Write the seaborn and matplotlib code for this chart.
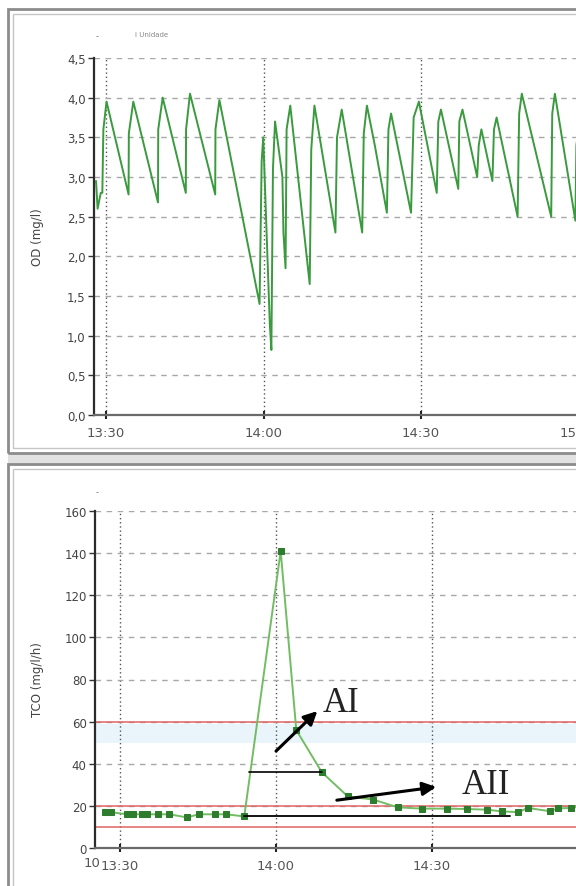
import matplotlib
matplotlib.use("Agg")
import matplotlib.pyplot as plt
from matplotlib.patches import Rectangle
import seaborn as sns

W, H = 576, 887

# dissolved oxygen trace, minutes after 13:30
od_minutes = [-1.9, -1.6, -1.0, -0.7, -0.5, 0.1,
              4.3, 4.35, 5.2, 9.9, 9.95, 10.8, 15.2, 15.25, 16.0, 20.8, 20.85, 21.6,
              29.25, 29.65, 29.95, 31.2, 31.5, 31.8, 32.2, 33.6, 33.8, 34.2, 34.4, 35.1,
              38.8, 39.1, 39.7, 43.7, 44.0, 44.9, 48.8, 49.1, 49.7, 51.2, 53.5, 53.8, 54.3,
              58.1, 58.6, 59.6, 63.0, 63.3, 63.8, 67.1, 67.3, 67.9, 70.7, 71.0, 71.5,
              73.6, 73.9, 74.4, 78.4, 78.7, 79.2, 84.8, 85.0, 85.5, 89.4, 89.6, 90.2]
od_values = [2.95, 2.6, 2.8, 2.8, 3.6, 3.95,
             2.78, 3.55, 3.95, 2.68, 3.6, 4.0, 2.8, 3.6, 4.05, 2.78, 3.6, 3.97,
             1.4, 3.2, 3.5, 1.15, 0.82, 3.1, 3.7, 3.0, 2.3, 1.85, 3.6, 3.9,
             1.65, 3.35, 3.9, 2.3, 3.5, 3.85, 2.3, 3.55, 3.9, 3.4, 2.55, 3.6, 3.8,
             2.55, 3.75, 3.95, 2.8, 3.7, 3.85, 2.85, 3.7, 3.85, 3.0, 3.4, 3.6,
             2.95, 3.6, 3.75, 2.5, 3.8, 4.05, 2.5, 3.8, 4.05, 2.45, 3.4, 3.7]

# TCO samples, minutes after 13:30
tco_minutes = [-2.8, -1.8, 1.4, 2.5, 4.2, 5.1, 7.4, 9.5, 12.9, 15.1, 18.3, 20.4, 23.9,
               30.9, 33.9, 38.8, 43.8, 48.7, 53.4, 58.0, 62.8, 66.8, 70.5, 73.4,
               76.6, 78.4, 82.6, 84.3, 86.8, 90.5]
tco_values = [17, 17, 16, 16, 16, 16, 16, 16, 14.5, 16, 16, 16, 15,
              141, 56, 36, 24.5, 23, 19.3, 18.7, 18.7, 18.5, 18.2, 17.4,
              17, 19, 17.5, 18.8, 19, 21]

time_ticks = [0, 30, 60, 90]
time_labels = ["13:30", "14:00", "14:30", "15:00"]
od_ticks = [0, 0.5, 1.0, 1.5, 2.0, 2.5, 3.0, 3.5, 4.0, 4.5]
od_labels = ["0,0", "0,5", "1,0", "1,5", "2,0", "2,5", "3,0", "3,5", "4,0", "4,5"]
tco_ticks = [0, 20, 40, 60, 80, 100, 120, 140, 160]
red_levels = [10, 20, 60]

# annotation geometry (minutes, mg/l/h)
ai_arrow = ((30.0, 46), (37.95, 65))
aii_arrow = ((41.7, 22.7), (60.8, 29))
ai_bar = ([24.9, 38.8], [36.3, 36.3])
base_bar = ([23.9, 75.0], [15.0, 15.0])

sns.set_style("white")
plt.rcParams['font.family'] = ['DejaVu Sans']

fig = plt.figure(figsize=(W / 100, H / 100), dpi=100)


def box(x0, y0, x1, y1):
    return [x0 / W, 1 - y1 / H, (x1 - x0) / W, (y1 - y0) / H]


def frame(x0, y0, x1, y1):
    fig.patches.append(Rectangle((x0 / W, 1 - y1 / H), (x1 - x0) / W, (y1 - y0) / H,
                                 transform=fig.transFigure, fill=False,
                                 edgecolor="#8c8c8c", lw=2))
    fig.patches.append(Rectangle(((x0 + 5) / W, 1 - (y1 - 5) / H), (x1 - x0 - 10) / W,
                                 (y1 - y0 - 10) / H, transform=fig.transFigure, fill=False,
                                 edgecolor="#c6c6c6", lw=1))


fig.patches.append(Rectangle((8 / W, 1 - 467 / H), 600 / W, 13 / H, transform=fig.transFigure,
                             facecolor="#e2e2e2", edgecolor="none"))
frame(8, 10, 600, 454)
frame(8, 465, 600, 905)


def style(ax, xlim):
    ax.set_xlim(*xlim)
    ax.set_xticks(time_ticks)
    for s in ["top", "right"]:
        ax.spines[s].set_visible(False)
    ax.spines["left"].set_color("#2b2b2b")
    ax.spines["left"].set_linewidth(1.6)
    ax.spines["bottom"].set_color("#6a6a6a")
    ax.spines["bottom"].set_linewidth(1.6)
    ax.yaxis.grid(True, ls=(0, (4, 4)), color="#a8a8a8", lw=1)
    ax.xaxis.grid(True, ls=(0, (1, 2)), color="#555555", lw=1)
    ax.set_axisbelow(True)
    ax.tick_params(axis="y", direction="out", length=4, width=1, color="#333",
                   labelsize=8.5, labelcolor="#444", pad=2, left=True)
    ax.tick_params(axis="x", direction="inout", length=6, width=1.5, color="#222",
                   labelsize=9.5, labelcolor="#555", pad=5, bottom=True)
    ax.set_xlabel("")
    ax.set_ylabel("")


# top panel: dissolved oxygen
ax1 = fig.add_axes(box(94, 59, 605, 416))
sns.lineplot(x=od_minutes, y=od_values, ax=ax1, color="#3a9a3e", lw=1.4,
             sort=False, estimator=None)
style(ax1, ((94 - 106) / 5.25, (605 - 106) / 5.25))
ax1.set_ylim(0, 4.5)
ax1.set_yticks(od_ticks)
ax1.set_yticklabels(od_labels)
ax1.set_xticklabels(time_labels)
fig.text(37 / W, 1 - 237 / H, "OD (mg/l)", rotation=90, ha="center", va="center",
         fontsize=8.5, color="#444")
fig.text(97 / W, 1 - 37 / H, "-", fontsize=6, color="#777", ha="center", va="center")
fig.text(135 / W, 1 - 35 / H, "i Unidade", fontsize=5, color="#888", ha="left", va="center")

# bottom panel: TCO
ax2 = fig.add_axes(box(95, 512, 614, 849))
for lvl in red_levels:
    ax2.axhline(lvl, color="#e06464", lw=1.1, zorder=1.5)
ax2.axhspan(50, 59, color="#eaf5fb", zorder=0.5, lw=0)
sns.lineplot(x=tco_minutes, y=tco_values, ax=ax2, color="#72bd63", lw=1.4,
             marker="s", markersize=4.5, markerfacecolor="#2e7d2e",
             markeredgecolor="#2e7d2e", sort=False, estimator=None, zorder=3)
style(ax2, ((95 - 120) / 5.2, (614 - 120) / 5.2))
ax2.set_ylim(0, 160)
ax2.set_yticks(tco_ticks)
# 15:00 falls past the right edge of the picture in this panel
ax2.set_xticklabels(time_labels[:3] + [""])
fig.text(38 / W, 1 - 680 / H, "TCO (mg/l/h)", rotation=90, ha="center", va="center",
         fontsize=8.5, color="#444")
fig.text(92 / W, 1 - 864 / H, "10", fontsize=9.5, color="#555", ha="center", va="center")
fig.text(97 / W, 1 - 493 / H, "-", fontsize=6, color="#777", ha="center", va="center")

ax2.plot(*ai_bar, color="black", lw=1.2, zorder=4)
ax2.plot(*base_bar, color="black", lw=1.3, zorder=4)
arrow = dict(arrowstyle="-|>", color="black", lw=2.2, mutation_scale=20,
             shrinkA=0, shrinkB=0)
ax2.annotate("", xy=ai_arrow[1], xytext=ai_arrow[0], arrowprops=arrow, zorder=5)
ax2.annotate("", xy=aii_arrow[1], xytext=aii_arrow[0], arrowprops=arrow, zorder=5)
ax2.text(38.9, 65, "AI", family="Liberation Serif", fontsize=25, va="baseline",
         color="#222")
ax2.text(65.7, 26, "AII", family="Liberation Serif", fontsize=25, va="baseline",
         color="#222")

fig.savefig("out.png", dpi=100, facecolor="white")
